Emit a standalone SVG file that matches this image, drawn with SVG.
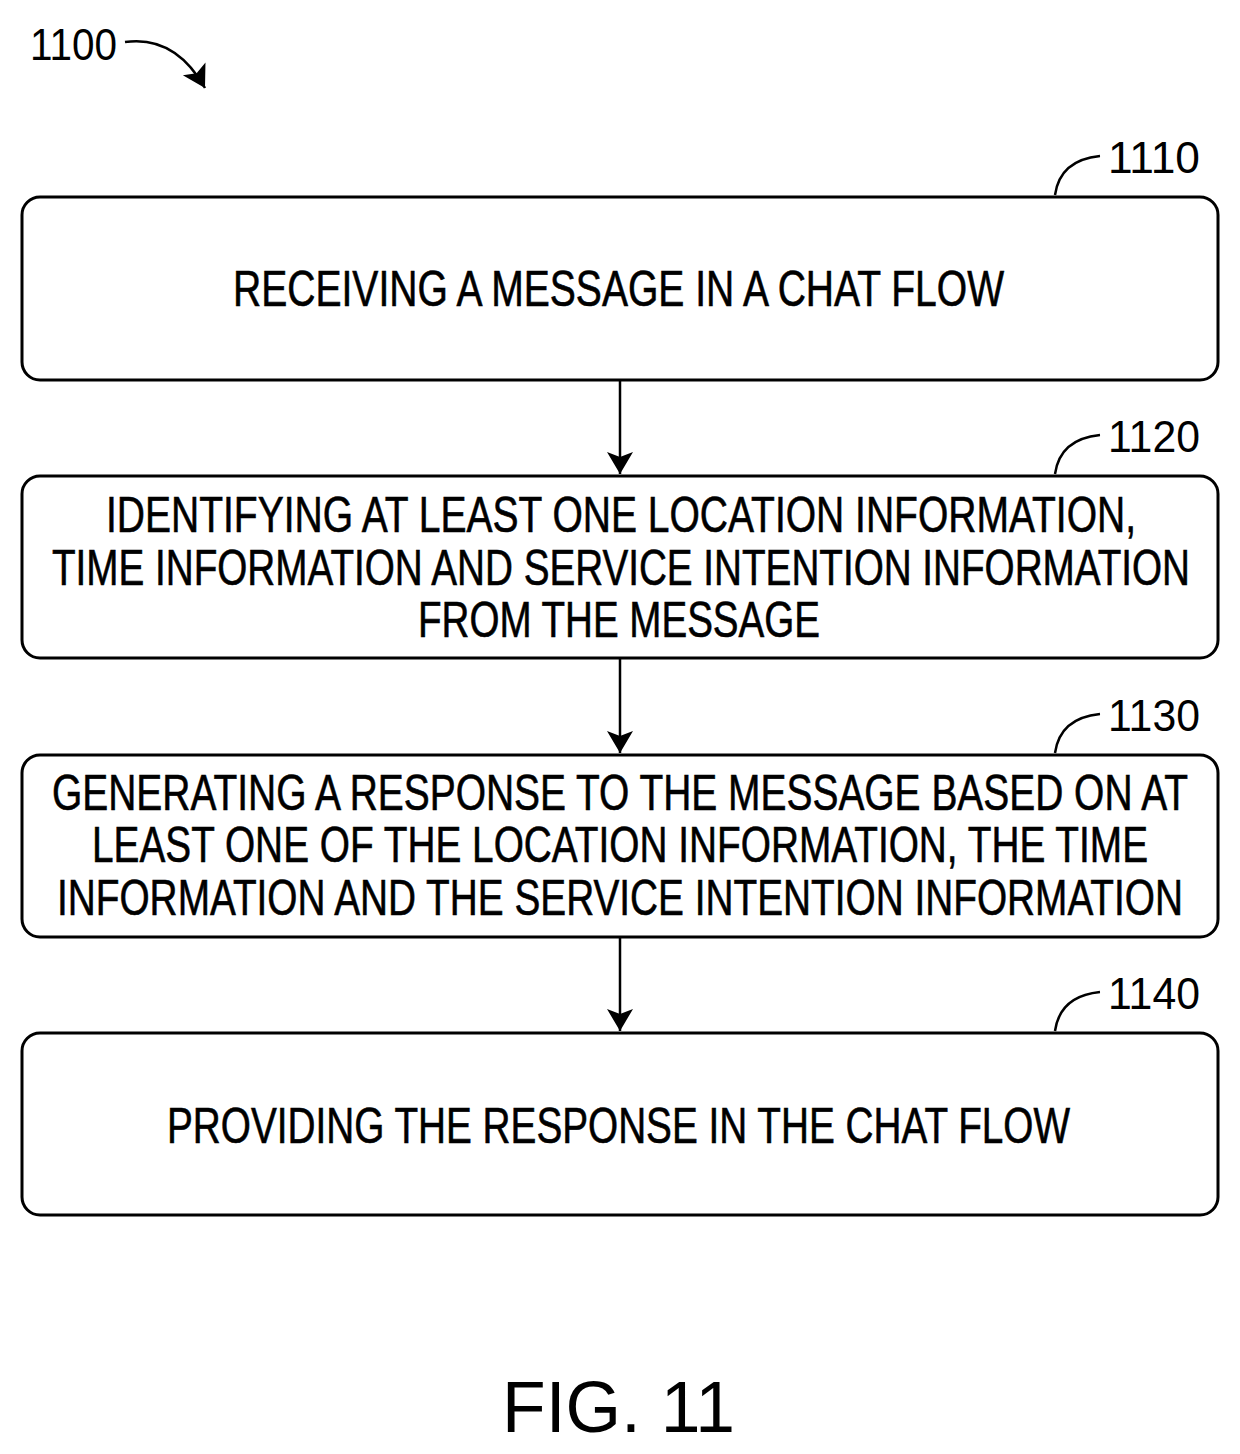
<svg xmlns="http://www.w3.org/2000/svg" width="1240" height="1454" viewBox="0 0 1240 1454">
<style>
.box{fill:#fff;stroke:#000;stroke-width:3}
.t{font-family:"Liberation Sans",Arial,sans-serif;font-size:50px;fill:#000;stroke:#000;stroke-width:0.6}
.ref{font-family:"Liberation Sans",Arial,sans-serif;font-size:45px;fill:#000}
.ln{fill:none;stroke:#000;stroke-width:2.5}
</style>
<defs>
<marker id="ah2" markerWidth="24" markerHeight="30" refX="22" refY="15" orient="auto" markerUnits="userSpaceOnUse"><path d="M0,2 L22,15 L0,28 L5,15 Z"/></marker>
</defs>
<rect width="1240" height="1454" fill="#fff"/>
<g id="title">
<text class="ref" x="30" y="60" textLength="87" lengthAdjust="spacingAndGlyphs">1100</text>
<path class="ln" d="M125,42 Q175,35 205,88" marker-end="url(#ah2)"/>
</g>
<g id="n1110">
<rect class="box" x="22" y="197" width="1196" height="183" rx="18"/>
<text class="t" x="233" y="306" textLength="771" lengthAdjust="spacingAndGlyphs">RECEIVING A MESSAGE IN A CHAT FLOW</text>
<text class="ref" x="1108" y="173" textLength="92" lengthAdjust="spacingAndGlyphs">1110</text>
<path class="ln" d="M1055,195 Q1060,160 1100,156"/>
</g>
<g id="n1120">
<rect class="box" x="22" y="476" width="1196" height="182" rx="18"/>
<text class="t" x="106" y="532" textLength="1030" lengthAdjust="spacingAndGlyphs">IDENTIFYING AT LEAST ONE LOCATION INFORMATION,</text>
<text class="t" x="52" y="585" textLength="1138" lengthAdjust="spacingAndGlyphs">TIME INFORMATION AND SERVICE INTENTION INFORMATION</text>
<text class="t" x="418" y="637" textLength="402" lengthAdjust="spacingAndGlyphs">FROM THE MESSAGE</text>
<text class="ref" x="1108" y="452" textLength="92" lengthAdjust="spacingAndGlyphs">1120</text>
<path class="ln" d="M1055,474 Q1060,439 1100,435"/>
</g>
<g id="n1130">
<rect class="box" x="22" y="755" width="1196" height="182" rx="18"/>
<text class="t" x="52" y="810" textLength="1136" lengthAdjust="spacingAndGlyphs">GENERATING A RESPONSE TO THE MESSAGE BASED ON AT</text>
<text class="t" x="92" y="862" textLength="1056" lengthAdjust="spacingAndGlyphs">LEAST ONE OF THE LOCATION INFORMATION, THE TIME</text>
<text class="t" x="57" y="915" textLength="1126" lengthAdjust="spacingAndGlyphs">INFORMATION AND THE SERVICE INTENTION INFORMATION</text>
<text class="ref" x="1108" y="731" textLength="92" lengthAdjust="spacingAndGlyphs">1130</text>
<path class="ln" d="M1055,753 Q1060,718 1100,714"/>
</g>
<g id="n1140">
<rect class="box" x="22" y="1033" width="1196" height="182" rx="18"/>
<text class="t" x="167" y="1143" textLength="903" lengthAdjust="spacingAndGlyphs">PROVIDING THE RESPONSE IN THE CHAT FLOW</text>
<text class="ref" x="1108" y="1009" textLength="92" lengthAdjust="spacingAndGlyphs">1140</text>
<path class="ln" d="M1055,1031 Q1060,996 1100,992"/>
</g>
<g id="connectors">
<line class="ln" x1="620" y1="380" x2="620" y2="474" marker-end="url(#ah2)"/>
<line class="ln" x1="620" y1="658" x2="620" y2="753" marker-end="url(#ah2)"/>
<line class="ln" x1="620" y1="937" x2="620" y2="1031" marker-end="url(#ah2)"/>
</g>
<text x="502" y="1432" font-family="Liberation Sans,Arial,sans-serif" font-size="72" textLength="233" lengthAdjust="spacingAndGlyphs">FIG. 11</text>
</svg>
